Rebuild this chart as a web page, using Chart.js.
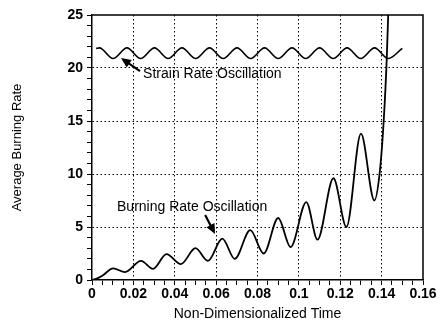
<!DOCTYPE html>
<html>
<head>
<meta charset="utf-8">
<script src="https://cdn.jsdelivr.net/npm/chart.js@4.4.0/dist/chart.umd.min.js"></script>
<style>
  html, body { margin: 0; padding: 0; background: #fff; }
  #wrap { width: 443px; height: 327px; position: relative; }
</style>
</head>
<body>
<div id="wrap"><canvas id="c" width="443" height="327"></canvas></div>
<script>
// ---- data ----
const burnTime = [0, 0.002, 0.005, 0.0102, 0.016, 0.0237, 0.0295, 0.036, 0.043, 0.050, 0.056, 0.063, 0.069, 0.0765, 0.083, 0.090, 0.096, 0.1036, 0.109, 0.1167, 0.123, 0.130, 0.1365, 0.139, 0.141, 0.1425, 0.1435];
const burnRate = [0, 0.1, 0.4, 1.1, 0.75, 1.8, 1.05, 2.45, 1.5, 3.0, 1.8, 3.9, 2.0, 4.7, 2.5, 5.85, 3.1, 7.35, 3.8, 9.6, 5.0, 13.8, 7.5, 10.0, 15.0, 21.0, 27.0];

const strainTime = [0.002, 0.0036, 0.0102, 0.0169, 0.0235, 0.0302, 0.0368, 0.0435, 0.0501, 0.0568, 0.0634, 0.0701, 0.0767, 0.0834, 0.0900, 0.0967, 0.1033, 0.1100, 0.1166, 0.1233, 0.1299, 0.1366, 0.1432, 0.150];
const strainRate = [21.85, 21.9, 20.9, 21.9, 20.9, 21.9, 20.9, 21.9, 20.9, 21.9, 20.9, 21.9, 20.9, 21.9, 20.9, 21.9, 20.9, 21.9, 20.9, 21.9, 20.9, 21.9, 20.9, 21.85];

const xMajorTicks = [0, 0.02, 0.04, 0.06, 0.08, 0.1, 0.12, 0.14, 0.16];
const yMajorTicks = [0, 5, 10, 15, 20, 25];

const labelTexts = ["Strain Rate Oscillation", "Burning Rate Oscillation"];
const labelX = [0.0247, 0.0121];
const labelY = [19.45, 6.9];
const arrowFromX = [0.0232, 0.0547];
const arrowFromY = [19.7, 6.13];
const arrowToX = [0.0140, 0.0595];
const arrowToY = [20.94, 4.34];

// ---- helpers ----
const toPts = (xs, ys) => xs.map((x, i) => ({ x: x, y: ys[i] }));
const isMajor = (v, list) => list.some(m => Math.abs(m - v) < 1e-7);
const FONT = "'Liberation Sans', Arial, sans-serif";

const annotPlugin = {
  id: 'annot',
  afterDatasetsDraw(chart) {
    const { ctx, chartArea, scales } = chart;
    const xs = scales.x, ys = scales.y;
    ctx.save();
    // top and right frame
    ctx.strokeStyle = '#000';
    ctx.lineWidth = 1.5;
    ctx.beginPath();
    ctx.moveTo(chartArea.left, chartArea.top);
    ctx.lineTo(chartArea.right, chartArea.top);
    ctx.lineTo(chartArea.right, chartArea.bottom);
    ctx.stroke();

    // labels
    ctx.fillStyle = '#000';
    ctx.font = '14px ' + FONT;
    ctx.textBaseline = 'middle';
    ctx.textAlign = 'left';
    labelTexts.forEach((t, i) => {
      ctx.fillText(t, xs.getPixelForValue(labelX[i]), ys.getPixelForValue(labelY[i]));
    });
    // arrows
    for (let i = 0; i < arrowFromX.length; i++) {
      const x1 = xs.getPixelForValue(arrowFromX[i]);
      const y1 = ys.getPixelForValue(arrowFromY[i]);
      const x2 = xs.getPixelForValue(arrowToX[i]);
      const y2 = ys.getPixelForValue(arrowToY[i]);
      const ang = Math.atan2(y2 - y1, x2 - x1);
      const hl = 10, hw = 4.5;
      ctx.lineWidth = 2.2;
      ctx.beginPath();
      ctx.moveTo(x1, y1);
      ctx.lineTo(x2 - Math.cos(ang) * hl * 0.8, y2 - Math.sin(ang) * hl * 0.8);
      ctx.stroke();
      ctx.beginPath();
      ctx.moveTo(x2, y2);
      ctx.lineTo(x2 - Math.cos(ang) * hl - Math.sin(ang) * hw, y2 - Math.sin(ang) * hl + Math.cos(ang) * hw);
      ctx.lineTo(x2 - Math.cos(ang) * hl + Math.sin(ang) * hw, y2 - Math.sin(ang) * hl - Math.cos(ang) * hw);
      ctx.closePath();
      ctx.fill();
    }
    ctx.restore();
  }
};

new Chart(document.getElementById('c'), {
  type: 'scatter',
  data: {
    datasets: [
      {
        data: toPts(strainTime, strainRate),
        showLine: true,
        borderColor: '#000',
        borderWidth: 1.6,
        pointRadius: 0,
        cubicInterpolationMode: 'monotone'
      },
      {
        data: toPts(burnTime, burnRate),
        showLine: true,
        borderColor: '#000',
        borderWidth: 1.8,
        pointRadius: 0,
        cubicInterpolationMode: 'monotone'
      }
    ]
  },
  options: {
    responsive: false,
    animation: false,
    devicePixelRatio: 1,
    layout: { padding: { left: 0, right: 20, top: 15, bottom: 0 } },
    plugins: { legend: { display: false }, tooltip: { enabled: false } },
    scales: {
      x: {
        type: 'linear',
        min: 0, max: 0.16,
        afterFit(scale) { scale.height = 47; },
        ticks: {
          stepSize: 0.005,
          autoSkip: false,
          maxRotation: 0,
          color: '#000',
          padding: 1,
          font: { family: FONT, size: 14, weight: 'bold' },
          callback: (v) => isMajor(v, xMajorTicks) ? String(parseFloat(v.toFixed(3))) : ''
        },
        grid: {
          color: (c) => (c.tick && isMajor(c.tick.value, xMajorTicks) && c.tick.value > 0 && c.tick.value < 0.16) ? '#000' : 'rgba(0,0,0,0)',
          tickColor: '#000',
          tickLength: 5,
          lineWidth: 1,
          tickBorderDash: []
        },
        border: { display: true, color: '#000', width: 1.5, dash: [1.5, 2.5] },
        title: {
          display: true,
          text: 'Non-Dimensionalized Time',
          color: '#000',
          font: { family: FONT, size: 14 },
          padding: { top: 2, bottom: 4 }
        }
      },
      y: {
        type: 'linear',
        min: 0, max: 25,
        afterFit(scale) { scale.width = 92; },
        ticks: {
          stepSize: 1,
          autoSkip: false,
          color: '#000',
          padding: 4,
          font: { family: FONT, size: 14, weight: 'bold' },
          callback: (v) => isMajor(v, yMajorTicks) ? String(v) : ''
        },
        grid: {
          color: (c) => (c.tick && isMajor(c.tick.value, yMajorTicks) && c.tick.value > 0 && c.tick.value < 25) ? '#000' : 'rgba(0,0,0,0)',
          tickColor: '#000',
          tickLength: 5,
          lineWidth: 1,
          tickBorderDash: []
        },
        border: { display: true, color: '#000', width: 1.5, dash: [1.5, 2.5] },
        title: {
          display: true,
          text: 'Average Burning Rate',
          color: '#000',
          font: { family: FONT, size: 13 },
          padding: { top: 10, bottom: 0 }
        }
      }
    }
  },
  plugins: [annotPlugin]
});
</script>
</body>
</html>
